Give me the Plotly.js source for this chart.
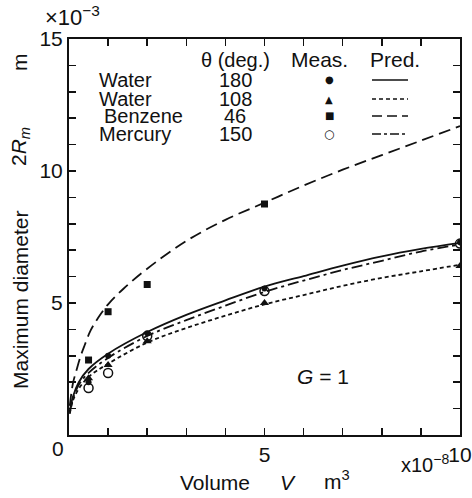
<!DOCTYPE html>
<html>
<head>
<meta charset="utf-8">
<script src="https://cdn.plot.ly/plotly-3.0.1.min.js"></script>
<style>html,body{margin:0;padding:0;background:#fff;}#chart{width:472px;height:498px;}</style>
</head>
<body>
<div id="chart"></div>
<script>
// ---- data (x in 1e-8 m^3, y in 1e-3 m) ----
const measV = [0.5, 1, 2, 5, 10];
const water180Meas = [2.0, 3.0, 3.85, 5.55, 7.3];
const water108Meas = [2.15, 2.65, 3.55, 5.0, 6.4];
const benzeneMeasV = [0.5, 1, 2, 5];
const benzeneMeas = [2.84, 4.67, 5.7, 8.75];
const mercuryMeas = [1.78, 2.35, 3.75, 5.45, 7.25];

const predV = [0.02, 0.1, 0.25, 0.5, 1, 2, 3, 4, 5, 6, 7, 8, 9, 10];
const water180Pred = [0.9, 1.45, 2.0, 2.5, 3.08, 3.9, 4.55, 5.1, 5.62, 6.02, 6.42, 6.77, 7.05, 7.28];
const mercuryPred  = [0.85, 1.35, 1.9, 2.35, 2.92, 3.75, 4.35, 4.9, 5.42, 5.85, 6.25, 6.6, 6.95, 7.22];
const water108Pred = [0.8, 1.3, 1.75, 2.2, 2.7, 3.5, 4.05, 4.52, 4.95, 5.3, 5.65, 5.95, 6.2, 6.45];
const benzenePredV = [0.02, 0.1, 0.2, 0.3, 0.4, 0.55, 0.75, 1, 1.4, 2, 3, 4, 5, 6, 7, 8, 9, 10];
const benzenePred  = [1.1, 1.95, 2.5, 3.0, 3.4, 3.95, 4.45, 4.95, 5.55, 6.3, 7.35, 8.15, 8.8, 9.45, 10.05, 10.6, 11.15, 11.7];

const legendNames = ["Water", "Water", "Benzene", "Mercury"];
const legendAngles = ["180", "108", "46", "150"];
const legendSymbols = ["\u25CF", "\u25B2", "\u25A0", "\u25CB"];
const xTickVals = [0, 5, 10];
const xTickText = ["", "5", "10"];
const yTickVals = [0, 5, 10, 15];
const yTickText = ["", "5", "10", "15"];

// ---- layout geometry ----
const W = 472, H = 498, L = 69, R = 12, T = 39, B = 63;
const pw = W - L - R, ph = H - T - B;
const px = v => (v - L) / pw;
const py = v => (H - B - v) / ph;
const FONT = "Liberation Sans, Arial, sans-serif";
const black = "#111";

const lineBase = {color: black, width: 1.8, shape: "spline", smoothing: 1};
const traces = [
  {x: predV, y: water180Pred, mode: "lines", line: Object.assign({}, lineBase, {dash: "solid"})},
  {x: predV, y: water108Pred, mode: "lines", line: Object.assign({}, lineBase, {dash: "4px,3px"})},
  {x: benzenePredV, y: benzenePred, mode: "lines", line: Object.assign({}, lineBase, {dash: "12px,6px"})},
  {x: predV, y: mercuryPred, mode: "lines", line: Object.assign({}, lineBase, {dash: "11px,4px,3px,4px"})},
  {x: measV, y: water180Meas, mode: "markers", marker: {symbol: "circle", size: 6, color: black}},
  {x: measV, y: water108Meas, mode: "markers", marker: {symbol: "triangle-up", size: 8, color: black}},
  {x: benzeneMeasV, y: benzeneMeas, mode: "markers", marker: {symbol: "square", size: 7, color: black}},
  {x: measV, y: mercuryMeas, mode: "markers", marker: {symbol: "circle-open", size: 9, color: black, line: {width: 1.5, color: black}}}
];

const ann = [];
function txt(text, x, y, size, opts) {
  ann.push(Object.assign({text: text, x: px(x), y: py(y), xref: "paper", yref: "paper",
    showarrow: false, xanchor: "center", yanchor: "middle",
    font: {family: FONT, size: size, color: black}}, opts || {}));
}
// legend header
txt("\u03B8 (deg.)", 235, 60, 20);
txt("Meas.", 319, 60, 21);
txt("Pred.", 395, 60, 21);
const rowY = [80, 99, 116, 134];
const shapes = [];
const legDash = ["solid", "4px,3px", "10px,5px", "9px,3px,3px,3px"];
for (let i = 0; i < 4; i++) {
  txt(legendNames[i], i === 2 ? 102 : 97, rowY[i], 20, {xanchor: "left"});
  txt(legendAngles[i], 235, rowY[i], 20);
  txt(legendSymbols[i], 329, rowY[i], 10, {font: {family: "DejaVu Sans", size: i === 3 ? 12 : 10, color: black}});
  shapes.push({type: "line", xref: "paper", yref: "paper", x0: px(372), x1: px(408), y0: py(rowY[i]), y1: py(rowY[i]),
    line: {color: black, width: 1.5, dash: legDash[i]}});
}
// exponents and corner zero
txt("\u00D710<sup>\u22123</sup>", 72, 16, 22);
txt("x10<sup>\u22128</sup>", 425, 463, 20);
txt("0", 58, 448, 21);
// axis titles
txt("Volume", 215, 482, 21);
txt("<i>V</i>", 288, 482, 21);
txt("m<sup>3</sup>", 337, 480, 21);
txt("Maximum diameter", 20, 300, 21, {textangle: -90});
txt("2<i>R<sub>m</sub></i>", 20, 147, 21, {textangle: -90});
txt("m", 20, 62, 21, {textangle: -90});
// G = 1
txt("<i>G</i> = 1", 323, 376, 21);

const axisCommon = {
  showline: true, linecolor: black, linewidth: 2, mirror: "ticks",
  ticks: "inside", ticklen: 7, tickwidth: 1.5, tickcolor: black,
  showgrid: false, zeroline: false, tickmode: "array",
  tickfont: {family: FONT, size: 21, color: black},
  minor: {dtick: 1, tick0: 0, ticks: "inside", ticklen: 7, tickwidth: 1.5, tickcolor: black, showgrid: false}
};

const layout = {
  width: W, height: H,
  margin: {l: L, r: R, t: T, b: B, pad: 0},
  paper_bgcolor: "#fff", plot_bgcolor: "#fff",
  showlegend: false,
  xaxis: Object.assign({}, axisCommon, {range: [0, 10], tickvals: xTickVals, ticktext: xTickText}),
  yaxis: Object.assign({}, axisCommon, {range: [0, 15], tickvals: yTickVals, ticktext: yTickText}),
  annotations: ann,
  shapes: shapes
};

Plotly.newPlot("chart", traces, layout, {displayModeBar: false, staticPlot: true});
</script>
</body>
</html>
